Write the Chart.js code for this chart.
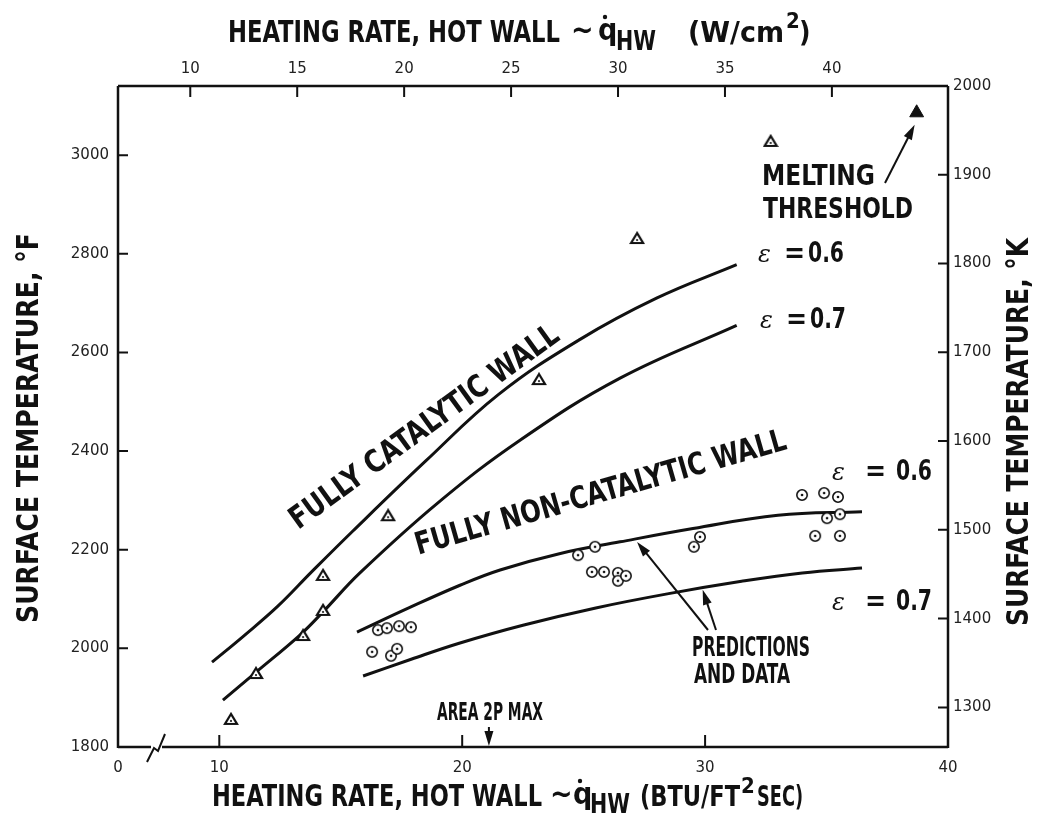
<!DOCTYPE html>
<html>
<head>
<meta charset="utf-8">
<script src="https://cdn.jsdelivr.net/npm/chart.js@4"></script>
<style>
body { margin: 0; background: #fff; }
#wrap { width: 1039px; height: 815px; }
</style>
</head>
<body>
<div id="wrap"><canvas id="chart" width="1039" height="815"></canvas></div>
<script>
// Axis ranges (bottom axis is broken between 0 and 10)
const heatMin = 5.83, heatMax = 40;
const tempMin = 1800, tempMax = 3140.33;

// Tick labels
const bottomTicks = [10, 20, 30, 40];
const topTicks = [10, 15, 20, 25, 30, 35, 40];
const leftTicks = [1800, 2000, 2200, 2400, 2600, 2800, 3000];
const rightTicks = [1300, 1400, 1500, 1600, 1700, 1800, 1900, 2000];

// Predictions, fully catalytic wall
const catE06Heat = [9.7, 11.0, 12.4, 13.8, 15.5, 18.5, 21.5, 24.8, 28.0, 31.3];
const catE06Temp = [1972, 2025, 2085, 2155, 2238, 2380, 2515, 2625, 2710, 2778];
const catE07Heat = [10.15, 11.47, 13.32, 14.27, 15.79, 19.0, 22.38, 26.5, 31.3];
const catE07Temp = [1895, 1950, 2027, 2074, 2153, 2295, 2422, 2548, 2655];

// Predictions, fully non-catalytic wall
const nonE06Heat = [15.67, 17.8, 19.91, 21.56, 24.0, 26.5, 29.5, 33.0, 36.46];
const nonE06Temp = [2033, 2082, 2128, 2159, 2192, 2216, 2243, 2270, 2277];
const nonE07Heat = [15.92, 17.9, 19.91, 22.5, 25.5, 28.5, 31.5, 34.0, 36.46];
const nonE07Temp = [1944, 1978, 2011, 2047, 2082, 2111, 2136, 2153, 2163];

// Data
const catDataHeat = [10.48, 11.51, 13.45, 14.27, 14.27, 16.95, 23.16, 27.2, 32.7];
const catDataTemp = [1857, 1950, 2027, 2078, 2149, 2270, 2546, 2832, 3029];
const nonDataHeat = [16.29, 16.53, 16.9, 17.07, 17.32, 17.4, 17.89,
                     24.77, 25.47, 25.34, 25.84, 26.41, 26.41, 26.74, 29.54, 29.79,
                     33.99, 34.9, 35.47, 35.02, 35.55, 34.53, 35.55];
const nonDataTemp = [1993, 2037, 2041, 1985, 1999, 2045, 2043,
                     2189, 2206, 2155, 2155, 2153, 2137, 2147, 2206, 2226,
                     2311, 2315, 2307, 2264, 2272, 2228, 2228];
const meltHeat = [38.71];
const meltTemp = [3086];

// unit conversions for the secondary axes
const toKelvin = f => (f + 459.67) / 1.8;
const toWcm2 = b => b * 1.1357;

const NARROW = '"Liberation Sans Narrow", "DejaVu Sans Condensed", "Liberation Sans", sans-serif';
const bold = sz => 'bold ' + sz + 'px ' + NARROW;
const INK = '#111';

function pts(xs, ys) {
    return xs.map((x, i) => ({ x: x, y: ys[i] }));
}

// marker images
function circleDot() {
    const c = document.createElement('canvas');
    c.width = 14; c.height = 14;
    const g = c.getContext('2d');
    g.strokeStyle = INK; g.lineWidth = 1.6; g.fillStyle = '#fff';
    g.beginPath(); g.arc(7, 7, 5.2, 0, Math.PI * 2); g.fill(); g.stroke();
    g.fillStyle = INK;
    g.beginPath(); g.arc(7, 7, 1.3, 0, Math.PI * 2); g.fill();
    return c;
}
function triangleDot() {
    const c = document.createElement('canvas');
    c.width = 16; c.height = 14;
    const g = c.getContext('2d');
    g.strokeStyle = INK; g.lineWidth = 2.2; g.fillStyle = '#fff'; g.lineJoin = 'miter';
    g.beginPath(); g.moveTo(8, 2); g.lineTo(2, 12); g.lineTo(14, 12); g.closePath();
    g.fill(); g.stroke();
    g.fillStyle = INK;
    g.beginPath(); g.arc(8, 9, 1.1, 0, Math.PI * 2); g.fill();
    return c;
}

function drawText(ctx, s, x, y, o) {
    ctx.save();
    ctx.translate(x, y);
    if (o.rot) ctx.rotate(o.rot * Math.PI / 180);
    ctx.font = o.font;
    ctx.fillStyle = INK;
    ctx.textBaseline = o.base || 'alphabetic';
    ctx.textAlign = 'left';
    const w = ctx.measureText(s).width;
    if (o.width) ctx.scale(o.width / w, 1);
    const dx = o.align === 'center' ? -w / 2 : 0;
    ctx.fillText(s, dx, 0);
    ctx.restore();
}

function dot(ctx, x, y, r) {
    ctx.save();
    ctx.fillStyle = INK;
    ctx.beginPath(); ctx.arc(x, y, r, 0, Math.PI * 2); ctx.fill();
    ctx.restore();
}

function arrow(ctx, x1, y1, x2, y2) {
    const a = Math.atan2(y2 - y1, x2 - x1);
    const L = 15, W = 4.5;
    ctx.save();
    ctx.strokeStyle = INK; ctx.fillStyle = INK; ctx.lineWidth = 2;
    ctx.beginPath();
    ctx.moveTo(x1, y1);
    ctx.lineTo(x2 - L * 0.8 * Math.cos(a), y2 - L * 0.8 * Math.sin(a));
    ctx.stroke();
    ctx.beginPath();
    ctx.moveTo(x2, y2);
    ctx.lineTo(x2 - L * Math.cos(a) + W * Math.sin(a), y2 - L * Math.sin(a) - W * Math.cos(a));
    ctx.lineTo(x2 - L * Math.cos(a) - W * Math.sin(a), y2 - L * Math.sin(a) + W * Math.cos(a));
    ctx.closePath();
    ctx.fill();
    ctx.restore();
}

function drawEps(ctx, x, y, gap, val) {
    drawText(ctx, '\u03B5', x, y, { font: 'italic 24px "DejaVu Serif", serif' });
    drawText(ctx, '=', x + gap, y, { font: bold(28) });
    drawText(ctx, val, x + gap * 2 - 2, y, { font: bold(28), width: 36 });
}

// frame, inward tick marks and all the lettering
const decorations = {
    id: 'decorations',
    afterDraw(chart) {
        const ctx = chart.ctx;
        const a = chart.chartArea;
        const sx = chart.scales.x, sx2 = chart.scales.x2;
        const sy = chart.scales.y, sy2 = chart.scales.y2;

        ctx.save();
        ctx.strokeStyle = INK;
        ctx.lineCap = 'butt';

        // frame with break on bottom axis
        ctx.lineWidth = 2.5;
        ctx.beginPath();
        ctx.moveTo(a.left, a.top); ctx.lineTo(a.right, a.top);
        ctx.moveTo(a.left, a.top); ctx.lineTo(a.left, a.bottom + 1);
        ctx.moveTo(a.right, a.top); ctx.lineTo(a.right, a.bottom + 1);
        ctx.moveTo(a.left, a.bottom); ctx.lineTo(a.left + 33, a.bottom);
        ctx.moveTo(a.left + 44, a.bottom); ctx.lineTo(a.right, a.bottom);
        ctx.stroke();
        ctx.lineWidth = 2;
        ctx.beginPath();
        ctx.moveTo(a.left + 29, a.bottom + 15);
        ctx.lineTo(a.left + 36, a.bottom + 1);
        ctx.lineTo(a.left + 40, a.bottom + 4);
        ctx.lineTo(a.left + 47, a.bottom - 13);
        ctx.stroke();

        // inward ticks
        ctx.lineWidth = 2;
        ctx.beginPath();
        bottomTicks.forEach(v => {
            const px = sx.getPixelForValue(v);
            ctx.moveTo(px, a.bottom); ctx.lineTo(px, a.bottom - 12);
        });
        topTicks.forEach(v => {
            const px = sx2.getPixelForValue(v);
            ctx.moveTo(px, a.top); ctx.lineTo(px, a.top + 11);
        });
        leftTicks.forEach(v => {
            const py = sy.getPixelForValue(v);
            ctx.moveTo(a.left, py); ctx.lineTo(a.left + 10, py);
        });
        rightTicks.forEach(v => {
            const py = sy2.getPixelForValue(v);
            ctx.moveTo(a.right, py); ctx.lineTo(a.right - 10, py);
        });
        ctx.stroke();
        ctx.restore();

        // axis titles
        drawText(ctx, 'HEATING RATE, HOT WALL', 228, 42, { font: bold(30), width: 332 });
        drawText(ctx, '~', 571, 40, { font: bold(30) });
        drawText(ctx, 'q', 598, 40, { font: bold(30) });
        dot(ctx, 605, 17, 2.2);
        drawText(ctx, 'HW', 616, 50, { font: bold(26), width: 40 });
        drawText(ctx, '(W/cm', 688, 42, { font: bold(28), width: 96 });
        drawText(ctx, '2', 786, 28, { font: bold(22) });
        drawText(ctx, ')', 799, 42, { font: bold(28) });

        drawText(ctx, 'HEATING RATE, HOT WALL', 212, 806, { font: bold(30), width: 330 });
        drawText(ctx, '~', 550, 804, { font: bold(30) });
        drawText(ctx, 'q', 573, 804, { font: bold(30) });
        dot(ctx, 580, 781, 2.2);
        drawText(ctx, 'HW', 590, 813, { font: bold(26), width: 40 });
        drawText(ctx, '(BTU/FT', 640, 806, { font: bold(28), width: 100 });
        drawText(ctx, '2', 741, 793, { font: bold(22) });
        drawText(ctx, 'SEC)', 757, 806, { font: bold(28), width: 46 });

        drawText(ctx, 'SURFACE TEMPERATURE, \u00B0F', 30, 428,
            { font: bold(30), width: 390, rot: -90, align: 'center', base: 'middle' });
        drawText(ctx, 'SURFACE TEMPERATURE, \u00B0K', 1020, 432,
            { font: bold(30), width: 388, rot: -90, align: 'center', base: 'middle' });

        // curve labels
        drawText(ctx, 'FULLY CATALYTIC WALL', 425, 428,
            { font: bold(31), width: 325, rot: -36, align: 'center', base: 'middle' });
        drawText(ctx, 'FULLY NON-CATALYTIC WALL', 601, 494,
            { font: bold(31), width: 385, rot: -16, align: 'center', base: 'middle' });

        drawEps(ctx, 758, 262, 26, '0.6');
        drawEps(ctx, 760, 328, 26, '0.7');
        drawEps(ctx, 832, 480, 33, '0.6');
        drawEps(ctx, 832, 610, 33, '0.7');

        // melting threshold
        drawText(ctx, 'MELTING', 762, 185, { font: bold(28), width: 113 });
        drawText(ctx, 'THRESHOLD', 763, 218, { font: bold(28), width: 150 });
        arrow(ctx, 885, 183, sx.getPixelForValue(meltHeat[0]) - 2, sy.getPixelForValue(meltTemp[0]) + 12);

        // predictions and data
        drawText(ctx, 'PREDICTIONS', 692, 656, { font: bold(26), width: 118 });
        drawText(ctx, 'AND DATA', 694, 683, { font: bold(26), width: 96 });
        arrow(ctx, 708, 630, sx.getPixelForValue(27.2), sy.getPixelForValue(2222) + 3);
        arrow(ctx, 716, 630, sx.getPixelForValue(29.9), sy.getPixelForValue(2125) + 3);

        // area 2P max
        drawText(ctx, 'AREA 2P MAX', 437, 720, { font: bold(24), width: 106 });
        const ax = sx.getPixelForValue(21.1);
        arrow(ctx, ax, 727, ax, a.bottom - 1);
    }
};

const lineStyle = {
    showLine: true, pointRadius: 0, borderColor: INK, borderWidth: 3,
    tension: 0.4, fill: false, order: 2
};

const tickFont = { family: '"DejaVu Sans"', size: 15 };

const ctx = document.getElementById('chart').getContext('2d');
const chart = new Chart(ctx, {
    type: 'scatter',
    data: {
        datasets: [
            { label: 'Data, catalytic', data: pts(catDataHeat, catDataTemp),
              pointStyle: triangleDot(), pointRadius: 7, order: 0 },
            { label: 'Data, non-catalytic', data: pts(nonDataHeat, nonDataTemp),
              pointStyle: circleDot(), pointRadius: 7, order: 0 },
            { label: 'Melting threshold', data: pts(meltHeat, meltTemp),
              pointStyle: 'triangle', pointRadius: 8, backgroundColor: INK, borderColor: INK, order: 0 },
            Object.assign({ label: 'Catalytic e=0.6', data: pts(catE06Heat, catE06Temp) }, lineStyle),
            Object.assign({ label: 'Catalytic e=0.7', data: pts(catE07Heat, catE07Temp) }, lineStyle),
            Object.assign({ label: 'Non-catalytic e=0.6', data: pts(nonE06Heat, nonE06Temp) }, lineStyle),
            Object.assign({ label: 'Non-catalytic e=0.7', data: pts(nonE07Heat, nonE07Temp) }, lineStyle)
        ]
    },
    options: {
        responsive: false,
        animation: false,
        layout: { padding: 0 },
        plugins: { legend: { display: false }, tooltip: { enabled: false }, title: { display: false } },
        scales: {
            x: {
                type: 'linear', position: 'bottom', min: heatMin, max: heatMax,
                afterFit: s => { s.height = 68; },
                afterBuildTicks: s => { s.ticks = [heatMin].concat(bottomTicks).map(v => ({ value: v })); },
                grid: { display: false, drawTicks: false }, border: { display: false },
                ticks: { autoSkip: false, maxRotation: 0, padding: 12, color: '#222', font: tickFont,
                         callback: v => (v === heatMin ? '0' : String(v)) }
            },
            x2: {
                type: 'linear', position: 'top', min: toWcm2(heatMin), max: toWcm2(heatMax),
                afterFit: s => { s.height = 86; },
                afterBuildTicks: s => { s.ticks = topTicks.map(v => ({ value: v })); },
                grid: { display: false, drawTicks: false }, border: { display: false },
                ticks: { autoSkip: false, maxRotation: 0, padding: 8, color: '#222', font: tickFont,
                         callback: v => String(v) }
            },
            y: {
                type: 'linear', position: 'left', min: tempMin, max: tempMax,
                afterFit: s => { s.width = 118; },
                afterBuildTicks: s => { s.ticks = leftTicks.map(v => ({ value: v })); },
                grid: { display: false, drawTicks: false }, border: { display: false },
                ticks: { autoSkip: false, padding: 9, color: '#222', font: tickFont,
                         callback: v => String(v) }
            },
            y2: {
                type: 'linear', position: 'right', min: toKelvin(tempMin), max: toKelvin(tempMax),
                afterFit: s => { s.width = 91; },
                afterBuildTicks: s => { s.ticks = rightTicks.map(v => ({ value: v })); },
                grid: { display: false, drawTicks: false }, border: { display: false },
                ticks: { autoSkip: false, padding: 5, color: '#222', font: tickFont,
                         callback: v => String(Math.round(v)) }
            }
        }
    },
    plugins: [decorations]
});
</script>
</body>
</html>
